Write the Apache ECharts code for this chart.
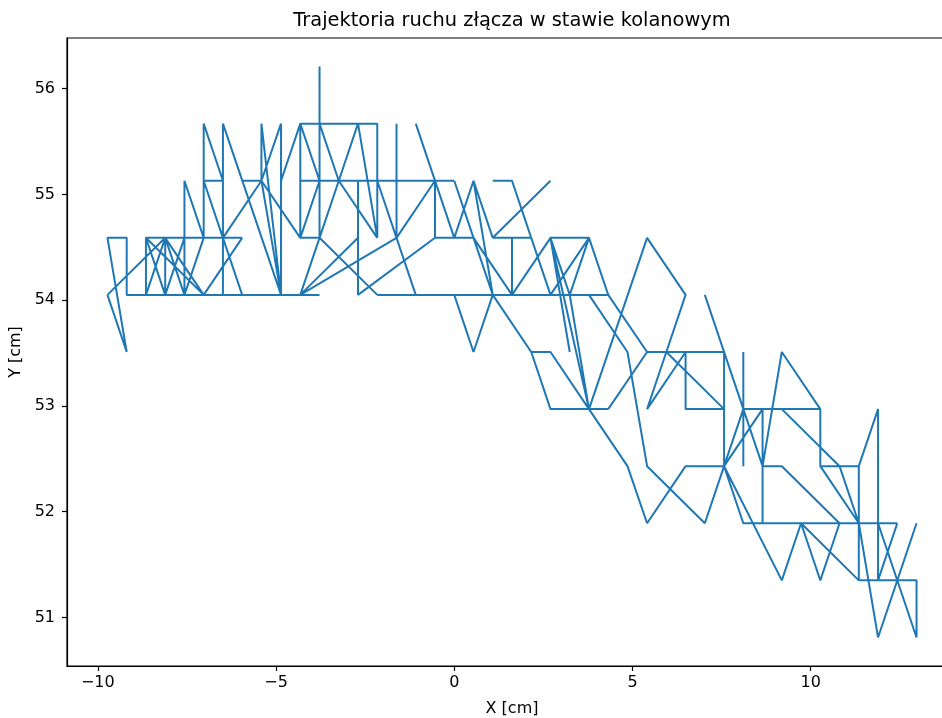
<!DOCTYPE html>
<html>
<head>
<meta charset="utf-8">
<script src="https://cdn.jsdelivr.net/npm/echarts@6.0.0/dist/echarts.min.js"></script>
<style>
  html, body { margin: 0; padding: 0; background: #fff; }
  #chart { width: 942px; height: 718px; }
</style>
</head>
<body>
<div id="chart"></div>
<script>
// trajectory points [cm]; null = pen up between strokes
const xs = [
  -9.73, -9.19, -9.73, -9.19, -9.19, -3.78, null,
  -9.73, -8.11, null,
  -8.65, -8.65, -5.95, null,
  -8.11, -8.65, -7.03, -8.11, -8.11, null,
  -8.65, -8.11, -7.57, -7.57, -7.03, -7.57, null,
  -8.11, -7.57, null,
  -7.03, -7.03, -6.49, -7.03, -6.49, -5.95, null,
  -7.03, -5.95, null,
  -6.49, -6.49, -4.86, null,
  -6.49, -5.41, -5.95, null,
  -4.32, -5.41, -5.41, -4.86, -5.41, -4.86, -4.86, null,
  -4.86, -4.32, -2.16, -2.16, null,
  -4.32, -4.32, -3.78, null,
  -3.78, -3.78, -4.32, -2.70, -2.70, -2.70, -0.54, null,
  -4.32, -3.78, -4.32, null,
  -3.78, -3.24, -3.78, -2.16, null,
  -2.70, -3.24, -2.16, null,
  -2.70, -2.16, null,
  -4.32, 0.00, null,
  -4.32, -1.62, -1.08, null,
  -1.62, -1.62, null,
  -2.16, -1.62, -0.54, -0.54, null,
  -1.08, 0.00, 0.54, 1.08, 2.70, null,
  -0.54, 0.54, 1.08, null,
  0.00, 0.54, 1.62, 1.62, 1.08, 2.16, 2.70, null,
  1.08, 1.62, 2.16, null,
  0.54, 1.08, null,
  1.62, 2.70, 3.78, 4.32, null,
  -2.16, 4.32, null,
  0.00, 0.54, 1.08, 2.16, 2.70, 3.78, null,
  2.16, 2.70, 4.32, null,
  3.24, 2.70, 3.24, 3.78, 2.70, null,
  2.70, 3.78, 4.86, 5.41, 6.49, 7.57, null,
  3.24, 3.78, null,
  3.78, 4.86, 5.41, 7.03, 7.57, null,
  4.32, 5.41, 7.57, 7.57, null,
  4.32, 5.41, null,
  5.95, 5.41, 6.49, 6.49, 7.57, null,
  3.78, 5.41, 6.49, 5.95, 7.57, null,
  7.03, 8.65, null,
  8.11, 8.11, null,
  8.11, 10.27, 10.27, 11.35, 11.89, 11.89, null,
  8.65, 8.65, null,
  8.65, 7.57, 8.11, null,
  8.65, 9.19, 10.27, null,
  9.19, 10.81, 11.35, null,
  8.65, 9.19, 10.81, null,
  10.27, 11.35, null,
  11.35, 11.35, 12.97, 12.97, null,
  7.57, 8.11, 12.43, null,
  7.57, 9.19, 9.73, 10.27, 10.81, null,
  9.73, 11.35, null,
  11.89, 12.97, null,
  12.97, 11.89, 11.35, null,
  12.43, 11.89
];
const ys = [
  54.05, 53.51, 54.59, 54.59, 54.05, 54.05, null,
  54.05, 54.59, null,
  54.05, 54.59, 54.59, null,
  54.05, 54.59, 54.05, 54.59, 54.05, null,
  54.05, 54.59, 54.05, 55.13, 54.59, 54.05, null,
  54.05, 54.59, null,
  54.59, 55.67, 55.13, 55.13, 54.59, 54.05, null,
  54.05, 54.59, null,
  54.05, 55.67, 54.05, null,
  54.59, 55.13, 55.13, null,
  54.59, 55.13, 55.67, 54.05, 55.13, 55.67, 54.05, null,
  55.13, 55.67, 55.67, 54.59, null,
  55.67, 54.59, 54.59, null,
  56.21, 54.59, 54.05, 54.59, 55.13, 54.05, 54.59, null,
  55.67, 55.13, 54.59, null,
  55.67, 55.13, 54.59, 54.05, null,
  55.67, 55.13, 54.59, null,
  55.67, 54.59, null,
  55.13, 55.13, null,
  54.05, 54.59, 54.05, null,
  55.67, 54.59, null,
  55.13, 54.59, 55.13, 54.59, null,
  55.67, 54.59, 55.13, 54.59, 55.13, null,
  54.59, 54.59, 54.05, null,
  55.13, 54.59, 54.05, 54.59, 54.59, 54.59, 54.05, null,
  55.13, 55.13, 54.59, null,
  55.13, 54.05, null,
  54.05, 54.59, 54.59, 54.05, null,
  54.05, 54.05, null,
  54.05, 53.51, 54.05, 53.51, 53.51, 52.97, null,
  53.51, 52.97, 52.97, null,
  53.51, 54.59, 54.05, 54.59, 54.05, null,
  54.59, 52.97, 52.43, 51.89, 52.43, 52.43, null,
  54.05, 52.97, null,
  54.05, 53.51, 52.43, 51.89, 52.43, null,
  54.05, 53.51, 53.51, 52.43, null,
  52.97, 53.51, null,
  53.51, 52.97, 53.51, 52.97, 52.97, null,
  52.97, 54.59, 54.05, 53.51, 52.97, null,
  54.05, 52.43, null,
  53.51, 52.43, null,
  52.97, 52.97, 52.43, 52.43, 52.97, 51.35, null,
  52.97, 51.89, null,
  52.97, 52.43, 52.97, null,
  52.43, 53.51, 52.97, null,
  52.97, 52.43, 51.89, null,
  52.43, 52.43, 51.89, null,
  52.43, 51.89, null,
  52.43, 51.35, 51.35, 50.81, null,
  52.43, 51.89, 51.89, null,
  52.43, 51.35, 51.89, 51.35, 51.89, null,
  51.89, 51.35, null,
  51.89, 50.81, null,
  51.89, 50.81, 51.89, null,
  51.89, 51.35
];
const xTicks = [-10, -5, 0, 5, 10];
const yTicks = [51, 52, 53, 54, 55, 56];

const chart = echarts.init(document.getElementById('chart'));
const points = xs.map((x, i) => (x === null ? ['-', '-'] : [x, ys[i]]));
const font = 'DejaVu Sans';
// matplotlib style minus sign
const fmt = (v) => String(v).replace('-', '\u2212');

const option = {
  animation: false,
  backgroundColor: '#fff',
  grid: {
    left: 67,
    top: 38,
    width: 890,
    height: 628,
    outerBoundsMode: 'none',
    containLabel: false,
    show: true,
    borderColor: '#000',
    borderWidth: 1.2,
  },
  graphic: [
    {
      type: 'text',
      x: 512,
      y: 21,
      style: {
        text: 'Trajektoria ruchu złącza w stawie kolanowym',
        font: '19.4px "DejaVu Sans"',
        fill: '#000',
        align: 'center',
        verticalAlign: 'middle',
      },
    },
  ],
  xAxis: {
    type: 'value',
    min: -10.865,
    max: 14.105,
    name: 'X [cm]',
    nameLocation: 'middle',
    nameGap: 35,
    nameTextStyle: { color: '#000', fontSize: 16, fontFamily: font },
    axisLine: { show: true, onZero: false, lineStyle: { color: '#000', width: 1.2 } },
    axisTick: { show: true, length: 5, lineStyle: { color: '#000', width: 1.2 }, customValues: xTicks },
    axisLabel: { color: '#000', fontSize: 16, fontFamily: font, margin: 9, formatter: fmt, customValues: xTicks },
    splitLine: { show: false },
  },
  yAxis: {
    type: 'value',
    min: 50.54,
    max: 56.48,
    name: 'Y [cm]',
    nameLocation: 'middle',
    nameGap: 30,
    nameRotate: 90,
    nameTextStyle: { color: '#000', fontSize: 16, fontFamily: font },
    axisLine: { show: true, onZero: false, lineStyle: { color: '#000', width: 1.2 } },
    axisTick: { show: true, length: 5, lineStyle: { color: '#000', width: 1.2 }, customValues: yTicks },
    axisLabel: { color: '#000', fontSize: 16, fontFamily: font, margin: 12, formatter: fmt, customValues: yTicks },
    splitLine: { show: false },
  },
  series: [
    {
      type: 'line',
      data: points,
      showSymbol: false,
      symbol: 'none',
      connectNulls: false,
      clip: true,
      lineStyle: { color: '#1f77b4', width: 2 },
    },
  ],
};
chart.setOption(option);
</script>
</body>
</html>
